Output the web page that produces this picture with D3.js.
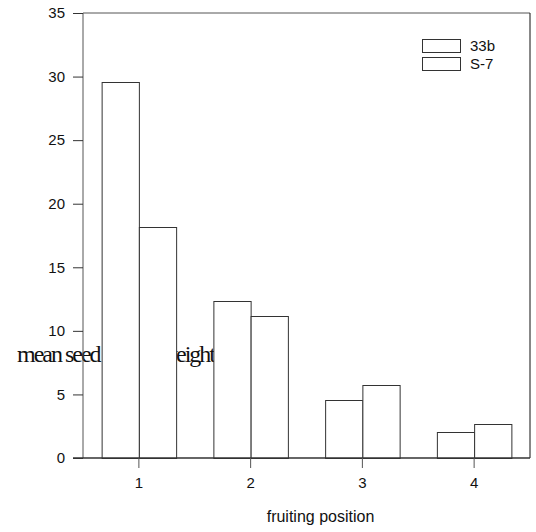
<!DOCTYPE html>
<html><head><meta charset="utf-8">
<script src="https://cdn.jsdelivr.net/npm/d3@7/dist/d3.min.js"></script>
<style>body{margin:0;background:#fff}svg{display:block}</style>
</head><body>
<svg id="c" width="536" height="532"></svg>
<script>
const categories = ["1", "2", "3", "4"];
const seriesNames = ["33b", "S-7"];
const values33b = [29.6, 12.35, 4.55, 2.05];
const valuesS7 = [18.15, 11.15, 5.75, 2.65];
const yTicks = [0, 5, 10, 15, 20, 25, 30, 35];

const svg = d3.select("#c");
const L = 83, R = 530, T = 13, B = 458;
const x = d3.scaleBand().domain(categories).range([L, R]);
const y = d3.scaleLinear().domain([0, 35]).range([B, T]);
const barW = x.bandwidth() / 3;

// y-axis title (drawn first, bars cover it)
svg.append("text").attr("x", 17).attr("y", 362)
  .attr("font-family", "Liberation Serif, serif").attr("font-size", 24)
  .attr("letter-spacing", "-2px").attr("fill", "#111").text("mean seed");
svg.append("text").attr("x", 214).attr("y", 362).attr("text-anchor", "end")
  .attr("font-family", "Liberation Serif, serif").attr("font-size", 24)
  .attr("letter-spacing", "-2px").attr("fill", "#111").text("weight");

// frame top & right
svg.append("line").attr("x1", L).attr("x2", R).attr("y1", T).attr("y2", T).attr("stroke", "#555").attr("stroke-width", 1);
svg.append("line").attr("x1", R).attr("x2", R).attr("y1", T).attr("y2", B).attr("stroke", "#111").attr("stroke-width", 1);

// bars
const data = [];
categories.forEach((c, i) => {
  data.push({c, s: 0, v: values33b[i]});
  data.push({c, s: 1, v: valuesS7[i]});
});
svg.append("g").selectAll("rect").data(data).join("rect")
  .attr("x", d => x(d.c) + x.bandwidth() / 2 - barW + d.s * barW + 0.5)
  .attr("y", d => Math.round(y(d.v)) + 0.5)
  .attr("width", barW)
  .attr("height", d => B - Math.round(y(d.v)))
  .attr("fill", "#fff").attr("stroke", "#333").attr("stroke-width", 1);

// y axis
const ya = svg.append("g").attr("transform", `translate(${L},0)`)
  .call(d3.axisLeft(y).tickValues(yTicks).tickSize(10).tickPadding(8));
ya.select(".domain").attr("stroke", "#555").attr("d", `M0,${T}V${B}`);
ya.selectAll(".tick line").attr("stroke", "#333");
ya.selectAll("text").attr("font-family", "Liberation Sans, Arial, sans-serif").attr("font-size", 15).attr("fill", "#111");

// x axis
const xa = svg.append("g").attr("transform", `translate(0,${B})`)
  .call(d3.axisBottom(x).tickSize(10).tickPadding(9));
xa.select(".domain").attr("stroke", "#333").attr("stroke-width", 1.5).attr("d", `M${L - 10},0H${R}`);
xa.selectAll(".tick line").attr("stroke", "#555");
xa.selectAll("text").attr("font-family", "Liberation Sans, Arial, sans-serif").attr("font-size", 15).attr("fill", "#111");

svg.append("text").attr("x", (L + R) / 2 + 14).attr("y", 522).attr("text-anchor", "middle")
  .attr("font-family", "Liberation Sans, Arial, sans-serif").attr("font-size", 16).attr("fill", "#111")
  .text("fruiting position");

// legend
const lg = svg.append("g").selectAll("g").data(seriesNames).join("g")
  .attr("transform", (d, i) => `translate(422,${39 + i * 18})`);
lg.append("rect").attr("x", 0.5).attr("y", 0.5).attr("width", 38).attr("height", 13)
  .attr("fill", "#fff").attr("stroke", "#333");
lg.append("text").attr("x", 48).attr("y", 12)
  .attr("font-family", "Liberation Sans, Arial, sans-serif").attr("font-size", 15).attr("fill", "#111")
  .text(d => d);
</script>
</body></html>
